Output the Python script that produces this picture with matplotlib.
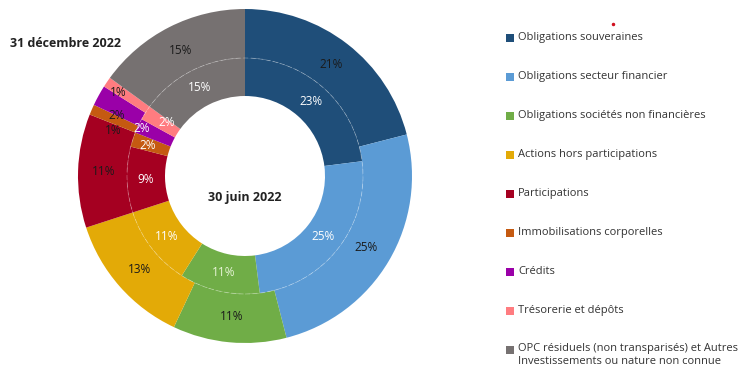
import matplotlib.pyplot as plt
from matplotlib.patches import Circle, Rectangle

plt.rcParams['font.family'] = ['Open Sans', 'DejaVu Sans']

categories = ['Obligations souveraines', 'Obligations secteur financier',
              'Obligations sociétés non financières', 'Actions hors participations',
              'Participations', 'Immobilisations corporelles', 'Crédits',
              'Trésorerie et dépôts',
              'OPC résiduels (non transparisés) et Autres\nInvestissements ou nature non connue']
dec_2022 = [21, 25, 11, 13, 11, 1, 2, 1, 15]
juin_2022 = [23, 25, 11, 11, 9, 2, 2, 2, 15]
colors = ['#1F4E79', '#5B9BD5', '#70AD47', '#E3AA07', '#A50021',
          '#C55A11', '#9A00A8', '#FF7C80', '#767171']

W, H = 751, 374
fig = plt.figure(figsize=(W / 100, H / 100), dpi=100)
ax = fig.add_axes([0, 0, 1, 1])

cx, cy = 245, H - 176
r_out, r_mid, r_in = 167, 118, 80

outer, _, outer_txt = ax.pie(dec_2022, radius=r_out, center=(cx, cy), startangle=90,
                             counterclock=False, colors=colors,
                             autopct=lambda p: f'{p:.0f}%', pctdistance=0.845,
                             wedgeprops=dict(width=r_out - r_mid, edgecolor='none'),
                             textprops=dict(fontsize=8.5, color='#1a1a1a'), frame=True)
inner, _, inner_txt = ax.pie(juin_2022, radius=r_mid, center=(cx, cy), startangle=90,
                             counterclock=False, colors=colors,
                             autopct=lambda p: f'{p:.0f}%', pctdistance=0.84,
                             wedgeprops=dict(width=r_mid - r_in, edgecolor='none'),
                             textprops=dict(fontsize=8.5, color='white'), frame=True)
inner_txt[2].set_color('#e8f5d8')
ax.set_xlim(0, W)
ax.set_ylim(0, H)
ax.set_aspect('equal')
ax.axis('off')

# spread out the labels of the thin slices (pixel positions from top-left)
outer_moves = {5: (113, 130), 6: (117, 115), 7: (118, 92)}
inner_moves = {5: (148, 145), 6: (142, 128), 7: (167, 122)}
for i, (px, py) in outer_moves.items():
    outer_txt[i].set_position((px, H - py))
for i, (px, py) in inner_moves.items():
    inner_txt[i].set_position((px, H - py))

# faint dashed ring between the two dates
ax.add_patch(Circle((cx, cy), r_mid, fill=False, edgecolor='white', lw=0.6,
                    ls=(0, (6, 3)), alpha=0.3))

ax.text(cx, H - 197, '30 juin 2022', ha='center', va='center',
        fontsize=9, fontweight='bold', color='#222222')
ax.text(10, H - 43, '31 décembre 2022', ha='left', va='center',
        fontsize=9, fontweight='bold', color='#222222')

ax.plot([613], [H - 24], 'o', color='#d01020', ms=1.5)

# legend drawn by hand so the two-line entry keeps its square on the first line
for i, (name, col) in enumerate(zip(categories, colors)):
    y = H - (38 + 39 * i)
    ax.add_patch(Rectangle((506, y - 4), 8, 8, color=col, lw=0))
    ax.text(518, y + 6.5, name, ha='left', va='top', fontsize=8,
            color='#333333', linespacing=1.25)

fig.savefig('out.png', dpi=100)
